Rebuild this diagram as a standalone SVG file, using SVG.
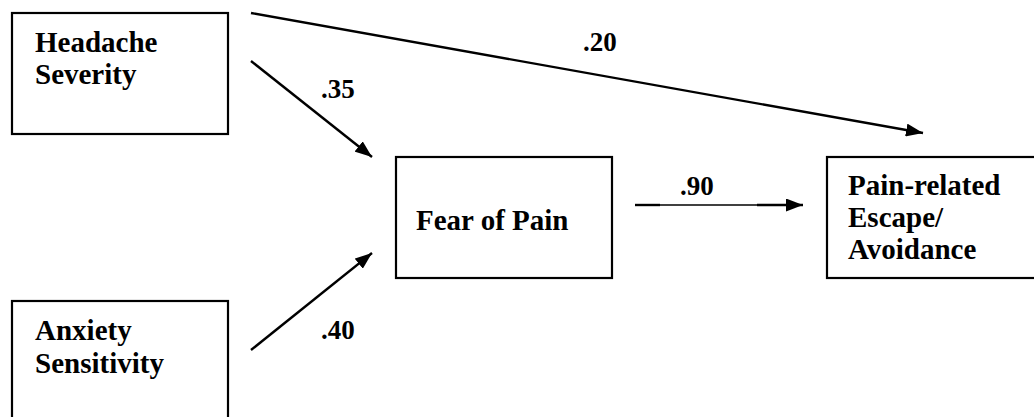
<svg xmlns="http://www.w3.org/2000/svg" width="1034" height="417" viewBox="0 0 1034 417">
  <style>
    .box { fill: #ffffff; stroke: #000000; stroke-width: 2.2; }
    .label { font-family: "Liberation Serif", "Times New Roman", serif; font-weight: bold; font-size: 29px; fill: #000000; }
    .coef { font-family: "Liberation Serif", "Times New Roman", serif; font-weight: bold; font-size: 27px; fill: #000000; }
    .edge { stroke: #000000; stroke-width: 2.4; fill: none; }
    .thin { stroke: #000000; stroke-width: 1.6; fill: none; }
  </style>
  <defs>
    <marker id="arrow" viewBox="0 0 17 13" refX="17" refY="6.5" markerWidth="17" markerHeight="13" markerUnits="userSpaceOnUse" orient="auto">
      <path d="M0,0 L17,6.5 L0,13 Z" fill="#000000"/>
    </marker>
  </defs>
  <rect width="1034" height="417" fill="#ffffff"/>

  <g id="connectors">
    <!-- Headache Severity -> Pain-related Escape/Avoidance -->
    <line class="edge" x1="251" y1="13" x2="923" y2="133" marker-end="url(#arrow)"/>
    <!-- Headache Severity -> Fear of Pain -->
    <line class="edge" x1="251" y1="61" x2="372" y2="157" marker-end="url(#arrow)"/>
    <!-- Anxiety Sensitivity -> Fear of Pain -->
    <line class="edge" x1="251" y1="350" x2="372" y2="253" marker-end="url(#arrow)"/>
    <!-- Fear of Pain -> Pain-related Escape/Avoidance -->
    <line class="edge" x1="635" y1="205" x2="660" y2="205"/>
    <line class="thin" x1="660" y1="205" x2="757" y2="205"/>
    <line class="edge" x1="757" y1="205" x2="803" y2="205" marker-end="url(#arrow)"/>
    <text class="coef" x="583" y="51">.20</text>
    <text class="coef" x="321" y="98">.35</text>
    <text class="coef" x="321" y="339">.40</text>
    <text class="coef" x="680" y="195">.90</text>
  </g>

  <g id="headache-severity">
    <rect class="box" x="12" y="13" width="216" height="121"/>
    <text class="label" x="35" y="52">Headache</text>
    <text class="label" x="35" y="84">Severity</text>
  </g>

  <g id="anxiety-sensitivity">
    <rect class="box" x="12" y="301" width="216" height="130"/>
    <text class="label" x="35" y="340">Anxiety</text>
    <text class="label" x="35" y="373">Sensitivity</text>
  </g>

  <g id="fear-of-pain">
    <rect class="box" x="396" y="157" width="216" height="121"/>
    <text class="label" x="416" y="230">Fear of Pain</text>
  </g>

  <g id="escape-avoidance">
    <rect class="box" x="827" y="157" width="220" height="121"/>
    <text class="label" x="848" y="195">Pain-related</text>
    <text class="label" x="848" y="227">Escape/</text>
    <text class="label" x="848" y="259">Avoidance</text>
  </g>
</svg>
